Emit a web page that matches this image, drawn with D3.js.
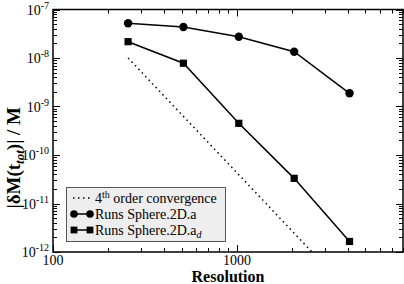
<!DOCTYPE html>
<html>
<head>
<meta charset="utf-8">
<script src="https://cdn.jsdelivr.net/npm/d3@7"></script>
<style>
  body { margin: 0; background: #fff; }
  svg { display: block; font-family: "Liberation Serif", "Times New Roman", serif; }
</style>
</head>
<body>
<div id="chart"></div>
<script>
// resolutions and mass-loss errors
const resolution = [256, 512, 1024, 2048, 4096];
const runsA = [5.2e-8, 4.35e-8, 2.75e-8, 1.35e-8, 1.87e-9];
const runsAd = [2.17e-8, 7.8e-9, 4.5e-10, 3.3e-11, 1.65e-12];
// 4th order reference line (end points)
const refX = [256, 2560];
const refY = [1e-8, 1e-12];

const xMajor = [100, 1000];
const yMajorExp = [-7, -8, -9, -10, -11, -12];

const W = 404, H = 284;
const plot = { left: 53, right: 403, top: 9.5, bottom: 252 };

const svg = d3.select('#chart').append('svg')
    .attr('width', W)
    .attr('height', H);

const x = d3.scaleLog().domain([100, 8000]).range([plot.left, plot.right]);
const y = d3.scaleLog().domain([1e-12, 1e-7]).range([plot.bottom, plot.top]);

// minor tick values
const xMinor = [];
for (const d of [100, 1000]) for (let k = 2; k <= 9; k++) if (d * k <= 8000) xMinor.push(d * k);
const yMinor = [];
for (let e = -12; e < -7; e++) for (let k = 2; k <= 9; k++) yMinor.push(k * Math.pow(10, e));

const tickG = svg.append('g').attr('stroke', '#000').attr('stroke-width', 1);

function drawTicks(vals, len, side) {
    vals.forEach(v => {
        if (side === 'bottom' || side === 'top') {
            const px = Math.round(x(v)) + 0.5;
            const y0 = side === 'bottom' ? plot.bottom : plot.top;
            const dir = side === 'bottom' ? -1 : 1;
            tickG.append('line').attr('x1', px).attr('x2', px)
                .attr('y1', y0).attr('y2', y0 + dir * len);
        } else {
            const py = Math.round(y(v)) + 0.5;
            const x0 = side === 'left' ? plot.left : plot.right;
            const dir = side === 'left' ? 1 : -1;
            tickG.append('line').attr('y1', py).attr('y2', py)
                .attr('x1', x0).attr('x2', x0 + dir * len);
        }
    });
}
const yMajor = yMajorExp.map(e => Math.pow(10, e));
['bottom', 'top'].forEach(s => { drawTicks(xMajor, 7, s); drawTicks(xMinor, 4, s); });
['left', 'right'].forEach(s => { drawTicks(yMajor, 7, s); drawTicks(yMinor, 4, s); });

// frame
svg.append('rect')
    .attr('x', plot.left).attr('y', plot.top)
    .attr('width', plot.right - plot.left)
    .attr('height', plot.bottom - plot.top)
    .attr('fill', 'none').attr('stroke', '#000').attr('stroke-width', 1.5);

// x tick labels
svg.append('g').selectAll('text').data(xMajor).join('text')
    .attr('x', d => x(d))
    .attr('y', 265)
    .attr('text-anchor', 'middle')
    .attr('font-size', 14)
    .text(d => d);

// y tick labels 10^e
const yl = svg.append('g').selectAll('text').data(yMajorExp).join('text')
    .attr('x', 49)
    .attr('y', d => y(Math.pow(10, d)) + 5)
    .attr('text-anchor', 'end')
    .attr('font-size', 14);
yl.append('tspan').text('10');
yl.append('tspan').attr('dy', -6).attr('font-size', 10).text(d => '-' + (-d));

// axis titles
svg.append('text')
    .attr('x', (plot.left + plot.right) / 2)
    .attr('y', 282)
    .attr('text-anchor', 'middle')
    .attr('font-size', 16)
    .attr('font-weight', 'bold')
    .text('Resolution');

const yt = svg.append('text')
    .attr('transform', `translate(20,${(plot.top + plot.bottom) / 2 + 27}) rotate(-90)`)
    .attr('text-anchor', 'middle')
    .attr('font-size', 19)
    .attr('font-weight', 'bold');
yt.append('tspan').text('|\u03b4M(t');
yt.append('tspan').attr('dy', 4).attr('font-size', 13).attr('font-style', 'italic').text('tot');
yt.append('tspan').attr('dy', -4).text(')| / M');

// reference line
const line = d3.line().x(d => x(d[0])).y(d => y(d[1]));
svg.append('path')
    .datum(d3.zip(refX, refY))
    .attr('d', line)
    .attr('fill', 'none')
    .attr('stroke', '#000')
    .attr('stroke-width', 1.5)
    .attr('stroke-dasharray', '1.5,3.5');

// series
const dataA = d3.zip(resolution, runsA);
const dataAd = d3.zip(resolution, runsAd);

[dataA, dataAd].forEach(ds => {
    svg.append('path').datum(ds).attr('d', line)
        .attr('fill', 'none').attr('stroke', '#000').attr('stroke-width', 1.5);
});

svg.append('g').selectAll('circle').data(dataA).join('circle')
    .attr('cx', d => x(d[0])).attr('cy', d => y(d[1])).attr('r', 4.2).attr('fill', '#000');
svg.append('g').selectAll('rect').data(dataAd).join('rect')
    .attr('x', d => x(d[0]) - 3.6).attr('y', d => y(d[1]) - 3.6)
    .attr('width', 7.2).attr('height', 7.2).attr('fill', '#000');

// legend
const lg = svg.append('g');
lg.append('rect')
    .attr('x', 66.5).attr('y', 187.5).attr('width', 159).attr('height', 54)
    .attr('fill', '#eeeeee').attr('stroke', '#555').attr('stroke-width', 1);

const rows = [198, 214, 230];
lg.append('line').attr('x1', 73).attr('x2', 91).attr('y1', rows[0]).attr('y2', rows[0])
    .attr('stroke', '#000').attr('stroke-width', 1.5).attr('stroke-dasharray', '1.5,3.5');
[1, 2].forEach(i => {
    lg.append('line').attr('x1', 74).attr('x2', 90).attr('y1', rows[i]).attr('y2', rows[i])
        .attr('stroke', '#000').attr('stroke-width', 1.5);
});
[74, 90].forEach(px => {
    lg.append('circle').attr('cx', px).attr('cy', rows[1]).attr('r', 3.8).attr('fill', '#000');
    lg.append('rect').attr('x', px - 3.4).attr('y', rows[2] - 3.4)
        .attr('width', 6.8).attr('height', 6.8).attr('fill', '#000');
});

const t0 = lg.append('text').attr('x', 95).attr('y', rows[0] + 5).attr('font-size', 14);
t0.append('tspan').text('4');
t0.append('tspan').attr('dy', -5).attr('font-size', 10).text('th');
t0.append('tspan').attr('dy', 5).text(' order convergence');

lg.append('text').attr('x', 95).attr('y', rows[1] + 5).attr('font-size', 14)
    .text('Runs Sphere.2D.a');
const t2 = lg.append('text').attr('x', 95).attr('y', rows[2] + 5).attr('font-size', 14);
t2.append('tspan').text('Runs Sphere.2D.a');
t2.append('tspan').attr('dy', 3).attr('font-size', 10).attr('font-style', 'italic').text('d');
</script>
</body>
</html>
